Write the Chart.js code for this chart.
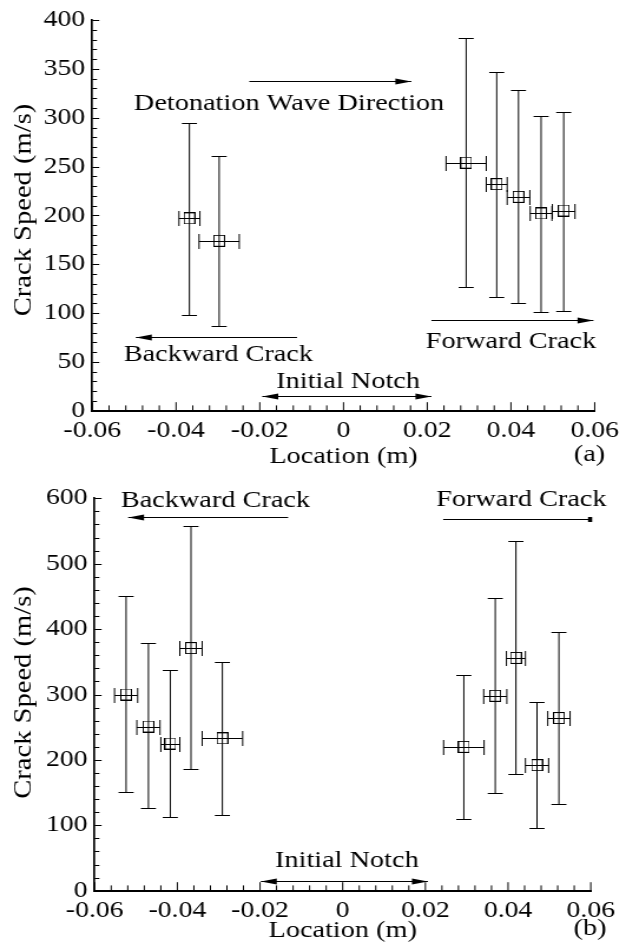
<!DOCTYPE html>
<html>
<head>
<meta charset="utf-8">
<script src="https://cdn.jsdelivr.net/npm/chart.js@4/dist/chart.umd.min.js"></script>
<style>
  html, body { margin: 0; padding: 0; background: #fff; }
  #wrap { position: relative; width: 626px; height: 949px; overflow: hidden; background: #fff; }
  #wrap canvas { position: absolute; left: 0; }
</style>
</head>
<body>
<div id="wrap">
  <canvas id="panelA" width="531" height="470" style="top:0;width:626px;height:470px"></canvas>
  <canvas id="panelB" width="531" height="479" style="top:470px;width:626px;height:479px"></canvas>
</div>
<script>
// ---- Panel (a): crack speed vs. location ----
const locationA    = [-0.0368, -0.0297, 0.0293, 0.0366, 0.0418, 0.0472, 0.0526];
const locationErrA = [ 0.0025,  0.0048, 0.0048, 0.0025, 0.0027, 0.0026, 0.0027];
const speedA       = [197, 174, 254, 232, 219, 202, 205];
const speedLowA    = [ 98,  87, 127, 116, 110, 101, 102];
const speedHighA   = [295, 261, 382, 347, 328, 302, 306];

// ---- Panel (b): crack speed vs. location ----
const locationB    = [-0.0524, -0.0470, -0.0417, -0.0367, -0.0291, 0.0293, 0.0369, 0.0419, 0.0470, 0.0523];
const locationErrB = [ 0.0028,  0.0028,  0.0023,  0.0027,  0.0049, 0.0049, 0.0028, 0.0023, 0.0028, 0.0027];
const speedB       = [300, 251, 225, 371, 233, 220, 298, 356, 192, 264];
const speedLowB    = [151, 126, 112, 186, 116, 110, 149, 178,  96, 132];
const speedHighB   = [451, 378, 338, 558, 349, 330, 447, 534, 289, 396];

// ---- Tick labels ----
const xTickLabels  = ['-0.06', '-0.04', '-0.02', '0', '0.02', '0.04', '0.06'];
const yTickLabelsA = ['0', '50', '100', '150', '200', '250', '300', '350', '400'];
const yTickLabelsB = ['0', '100', '200', '300', '400', '500', '600'];

// ---- Arrows and notes, in axis units ----
const arrowsA = [
  { from: [-0.0225, 338],  to: [0.0162, 338],  head: 'end'  },
  { from: [-0.0111, 75.6], to: [-0.0496, 75.6], head: 'end' },
  { from: [0.0210, 92.6],  to: [0.0597, 92.6], head: 'end'  },
  { from: [-0.0194, 15.3], to: [0.0210, 15.3], head: 'both' }
];
const notesA = [
  { text: 'Detonation Wave Direction', at: [-0.0130, 307.8] },
  { text: 'Backward Crack',            at: [-0.0299, 50.8] },
  { text: 'Forward Crack',             at: [0.0400, 64.7] },
  { text: 'Initial Notch',             at: [0.0011, 22.9] }
];
const arrowsB = [
  { from: [-0.0132, 571], to: [-0.0519, 571], head: 'end'  },
  { from: [0.0243, 568],  to: [0.0602, 568],  head: 'dot'  },
  { from: [-0.0198, 14.8], to: [0.0206, 14.8], head: 'both' }
];
const notesB = [
  { text: 'Backward Crack', at: [-0.0308, 587] },
  { text: 'Forward Crack',  at: [0.0432, 588] },
  { text: 'Initial Notch',  at: [0.0010, 36.7] }
];

// the drawing surface is 531 px wide and shown 626 px wide
const STRETCH = 626 / 531;
const SERIF = '"Liberation Serif", "Times New Roman", Times, serif';
Chart.defaults.font.family = SERIF;
Chart.defaults.color = '#000';

// open square marker
function squareMarker() {
  const c = document.createElement('canvas');
  c.width = 10; c.height = 12;
  const g = c.getContext('2d');
  g.strokeStyle = '#000';
  g.lineWidth = 1;
  g.strokeRect(0.5, 0.5, 9, 11);
  return c;
}
const marker = squareMarker();

// inward ticks, error bars, arrows, notes and axis titles
const panelDecor = {
  id: 'panelDecor',
  afterDatasetsDraw(chart, args, o) {
    const ctx = chart.ctx;
    const xs = chart.scales.x, ys = chart.scales.y;
    const area = chart.chartArea;
    const line = (x1, y1, x2, y2) => { ctx.beginPath(); ctx.moveTo(x1, y1); ctx.lineTo(x2, y2); ctx.stroke(); };
    const crisp = v => Math.round(v) + 0.5;
    ctx.save();
    ctx.strokeStyle = '#000';
    ctx.fillStyle = '#000';
    ctx.lineWidth = 1;

    // x ticks pointing into the plot
    const nx = Math.round((xs.max - xs.min) / o.xMinor);
    for (let i = 0; i <= nx; i++) {
      const v = xs.min + i * o.xMinor;
      const px = xs.getPixelForValue(v);
      const major = i % Math.round(o.xMajor / o.xMinor) === 0;
      line(px, area.bottom, px, area.bottom - (major ? 8.5 : 5.3));
    }
    // y ticks pointing into the plot
    const ny = Math.round((ys.max - ys.min) / o.yMinor);
    for (let i = 0; i <= ny; i++) {
      const v = ys.min + i * o.yMinor;
      const py = crisp(ys.getPixelForValue(v));
      const major = i % Math.round(o.yMajor / o.yMinor) === 0;
      line(area.left, py, area.left + (major ? 5.9 : 4.0), py);
    }

    // error bars
    const d = o.data;
    for (let i = 0; i < d.loc.length; i++) {
      const x = xs.getPixelForValue(d.loc[i]);
      const y = crisp(ys.getPixelForValue(d.speed[i]));
      const yl = crisp(ys.getPixelForValue(d.low[i]));
      const yh = crisp(ys.getPixelForValue(d.high[i]));
      const xl = xs.getPixelForValue(d.loc[i] - d.err[i]);
      const xr = xs.getPixelForValue(d.loc[i] + d.err[i]);
      line(x, yl, x, yh);
      line(x - 6.4, yl, x + 6.4, yl);
      line(x - 6.4, yh, x + 6.4, yh);
      line(xl, y, xr, y);
      line(xl, y - 7.5, xl, y + 7.5);
      line(xr, y - 7.5, xr, y + 7.5);
    }

    // arrows
    const head = (tx, ty, dir) => {
      ctx.beginPath();
      ctx.moveTo(tx, ty);
      ctx.lineTo(tx - dir * 13.5, ty - 3);
      ctx.lineTo(tx - dir * 13.5, ty + 3);
      ctx.closePath();
      ctx.fill();
    };
    o.arrows.forEach(a => {
      const x1 = xs.getPixelForValue(a.from[0]);
      const x2 = xs.getPixelForValue(a.to[0]);
      const y = crisp(ys.getPixelForValue(a.from[1]));
      const dir = Math.sign(x2 - x1);
      line(x1, y, x2, y);
      if (a.head === 'end' || a.head === 'both') head(x2, y, dir);
      if (a.head === 'both') head(x1, y, -dir);
      if (a.head === 'dot') ctx.fillRect(x2 - 3, y - 2.5, 3.5, 5);
    });

    // notes
    ctx.font = '24px ' + SERIF;
    ctx.textAlign = 'center';
    ctx.textBaseline = 'alphabetic';
    o.notes.forEach(n => {
      ctx.fillText(n.text, xs.getPixelForValue(n.at[0]), ys.getPixelForValue(n.at[1]));
    });

    // axis titles and panel tag
    ctx.fillText('Location (m)', (area.left + area.right) / 2, o.xTitleBase);
    ctx.fillText(o.tag, o.tagX, o.xTitleBase - 2);
    ctx.save();
    ctx.translate(o.yTitleX, o.yTitleY);
    ctx.rotate(-Math.PI / 2);
    // same wide letter shape as the horizontal text
    ctx.scale(1.19, 1 / STRETCH);
    ctx.font = '24px ' + SERIF;
    ctx.textBaseline = 'middle';
    ctx.fillText('Crack Speed (m/s)', 0, 0);
    ctx.restore();

    ctx.restore();
  }
};

function makePanel(id, p) {
  const pts = p.loc.map((x, i) => ({ x, y: p.speed[i] }));
  return new Chart(document.getElementById(id), {
    type: 'scatter',
    data: {
      datasets: [{
        data: pts,
        pointStyle: marker,
        pointRadius: 6,
        borderColor: '#000',
        backgroundColor: 'rgba(0,0,0,0)',
        showLine: false
      }]
    },
    options: {
      responsive: false,
      animation: false,
      devicePixelRatio: 1,
      layout: { padding: p.padding },
      plugins: {
        legend: { display: false },
        tooltip: { enabled: false },
        panelDecor: {
          data: p, arrows: p.arrows, notes: p.notes,
          xMinor: 0.004, xMajor: 0.02, yMinor: p.yMinor, yMajor: p.yStep,
          xTitleBase: p.xTitleBase, tag: p.tag, tagX: p.tagX,
          yTitleX: p.yTitleX, yTitleY: p.yTitleY
        }
      },
      scales: {
        x: {
          type: 'linear', min: -0.06, max: 0.06,
          grid: { display: false, drawTicks: false },
          border: { display: true, color: '#000', width: 2 },
          ticks: {
            stepSize: 0.02, autoSkip: false, maxRotation: 0, padding: 6,
            font: { size: 23.5 }, color: '#000',
            callback: v => xTickLabels[Math.round((v + 0.06) / 0.02)]
          },
          afterFit: s => { s.height = p.xAxisH; }
        },
        y: {
          type: 'linear', min: 0, max: p.yMax,
          grid: { display: false, drawTicks: false },
          border: { display: true, color: '#000', width: 1.7 },
          ticks: {
            stepSize: p.yStep, autoSkip: false, padding: 6,
            font: { size: 23.5 }, color: '#000',
            callback: v => p.yLabels[Math.round(v / p.yStep)]
          },
          afterFit: s => { s.width = p.yAxisW; }
        }
      }
    },
    plugins: [panelDecor]
  });
}

makePanel('panelA', {
  loc: locationA, err: locationErrA, speed: speedA, low: speedLowA, high: speedHighA,
  yMax: 400, yStep: 50, yMinor: 10, yLabels: yTickLabelsA,
  arrows: arrowsA, notes: notesA,
  padding: { left: 0, top: 19, right: 24.3, bottom: 0 },
  yAxisW: 78.3, xAxisH: 59.3,
  xTitleBase: 463, tag: '(a)', tagX: 500, yTitleX: 20.8, yTitleY: 210
});

makePanel('panelB', {
  loc: locationB, err: locationErrB, speed: speedB, low: speedLowB, high: speedHighB,
  yMax: 600, yStep: 100, yMinor: 20, yLabels: yTickLabelsB,
  arrows: arrowsB, notes: notesB,
  padding: { left: 0, top: 28.3, right: 29.9, bottom: 0 },
  yAxisW: 80.3, xAxisH: 58.3,
  xTitleBase: 467, tag: '(b)', tagX: 500.5, yTitleX: 20.8, yTitleY: 222.5
});
</script>
</body>
</html>
